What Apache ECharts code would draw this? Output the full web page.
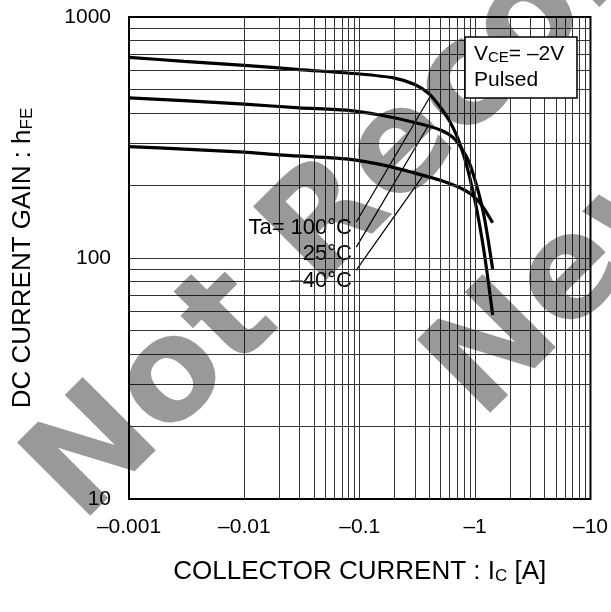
<!DOCTYPE html>
<html><head><meta charset="utf-8">
<script src="https://cdn.jsdelivr.net/npm/echarts@6/dist/echarts.min.js"></script>
<style>html,body{margin:0;padding:0;background:#fff}#c{width:611px;height:612px}</style>
</head><body><div id="c"></div>
<script>
// Tick labels
const xTickLabels = ['\u20130.001','\u20130.01','\u20130.1','\u20131','\u201310'];
const yTickLabels = ['10','100','1000'];

// Curves: |Ic| [A] vs hFE
const ic100 = [0.001, 0.003, 0.01, 0.03, 0.1, 0.2, 0.3, 0.4, 0.5, 0.6, 0.7, 0.8, 0.9, 1.0, 1.1, 1.2, 1.3, 1.42];
const hfe100 = [680, 655, 630, 605, 580, 558, 525, 480, 422, 370, 318, 265, 215, 172, 135, 105, 80, 58];
const ic25 = [0.001, 0.003, 0.01, 0.03, 0.08, 0.15, 0.3, 0.5, 0.65, 0.8, 0.9, 1.0, 1.1, 1.2, 1.3, 1.42];
const hfe25 = [462, 450, 435, 420, 410, 392, 365, 340, 315, 275, 245, 210, 178, 148, 118, 90];
const icM40 = [0.001, 0.003, 0.01, 0.02, 0.08, 0.18, 0.3, 0.5, 0.8, 1.0, 1.2, 1.42];
const hfeM40 = [290, 283, 275, 268, 257, 240, 225, 210, 192, 178, 160, 140];

// Leader lines (label -> curve), in data units
const leader100 = [[0.0933, 141], [0.41, 470]];
const leader25 = [[0.0933, 111], [0.39, 352]];
const leaderM40 = [[0.0933, 89], [0.35, 218]];

// Grid line positions
const xDecades = [0.001, 0.01, 0.1, 1];
const yDecades = [10, 100];
const mults = [1, 2, 3, 4, 5, 6, 7, 8, 9];

const FONT = 'Liberation Sans, Arial, sans-serif';
const zip = (a, b) => a.map((v, i) => [v, b[i]]);

const gridMarks = [];
xDecades.forEach(d => mults.forEach(m => { const v = d * m; if (v > 0.001) gridMarks.push({ xAxis: v }); }));
yDecades.forEach(d => mults.forEach(m => { const v = d * m; if (v > 10) gridMarks.push({ yAxis: v }); }));

const chart = echarts.init(document.getElementById('c'), null, { renderer: 'canvas' });
const curveStyle = { color: '#000', width: 3.2 };
const leaderStyle = { color: '#000', width: 1.2 };
const nameRich = {
  a: { fontSize: 26, fontFamily: FONT, color: '#000', lineHeight: 30, verticalAlign: 'bottom' },
  s: { fontSize: 17, fontFamily: FONT, color: '#000', lineHeight: 6, verticalAlign: 'bottom' }
};

chart.setOption({
  animation: false,
  backgroundColor: '#fff',
  grid: { left: 129, right: 17, top: 17, bottom: 113, show: true, borderColor: '#000', borderWidth: 2, backgroundColor: 'transparent' },
  xAxis: {
    type: 'log', logBase: 10, min: 0.001, max: 10,
    axisLine: { show: false }, axisTick: { show: false }, splitLine: { show: false },
    axisLabel: { color: '#000', fontSize: 21, fontFamily: FONT, margin: 18,
      formatter: v => xTickLabels[Math.round(Math.log10(v)) + 3] },
    name: '{a|COLLECTOR CURRENT : I}{s|C}{a| [A]}', nameLocation: 'middle', nameGap: 56,
    nameTextStyle: { color: '#000', fontFamily: FONT, rich: nameRich }
  },
  yAxis: {
    type: 'log', logBase: 10, min: 10, max: 1000,
    axisLine: { show: false }, axisTick: { show: false }, splitLine: { show: false },
    axisLabel: { color: '#000', fontSize: 21, fontFamily: FONT, margin: 18,
      formatter: v => yTickLabels[Math.round(Math.log10(v)) - 1] },
    name: '{a|DC CURRENT GAIN : h}{s|FE}', nameLocation: 'middle', nameGap: 93, nameRotate: 90,
    nameTextStyle: { color: '#000', fontFamily: FONT, rich: nameRich }
  },
  series: [
    { type: 'line', data: [], z: 1, silent: true,
      markLine: { silent: true, symbol: ['none', 'none'], label: { show: false },
        lineStyle: { color: '#333', width: 1, type: 'solid' }, emphasis: { disabled: true }, data: gridMarks } },
    { name: '100', type: 'line', data: zip(ic100, hfe100), smooth: 0.25, showSymbol: false, lineStyle: curveStyle, z: 3 },
    { name: '25', type: 'line', data: zip(ic25, hfe25), smooth: 0.25, showSymbol: false, lineStyle: curveStyle, z: 3 },
    { name: '-40', type: 'line', data: zip(icM40, hfeM40), smooth: 0.25, showSymbol: false, lineStyle: curveStyle, z: 3 },
    { type: 'line', data: leader100, showSymbol: false, lineStyle: leaderStyle, z: 3 },
    { type: 'line', data: leader25, showSymbol: false, lineStyle: leaderStyle, z: 3 },
    { type: 'line', data: leaderM40, showSymbol: false, lineStyle: leaderStyle, z: 3 }
  ],
  graphic: [
    { type: 'rect', z: 2, shape: { x: 238, y: 208, width: 120, height: 86 }, style: { fill: '#fff' } },
    { type: 'text', z: 4, x: 352, y: 228, style: { text: 'Ta= 100\u00b0C', font: '22px ' + FONT, fill: '#000', textAlign: 'right', textVerticalAlign: 'middle' } },
    { type: 'text', z: 4, x: 352, y: 254, style: { text: '25\u00b0C', font: '22px ' + FONT, fill: '#000', textAlign: 'right', textVerticalAlign: 'middle' } },
    { type: 'text', z: 4, x: 352, y: 281, style: { text: '\u201340\u00b0C', font: '22px ' + FONT, fill: '#000', textAlign: 'right', textVerticalAlign: 'middle' } },
    { type: 'text', z: 50, x: 55, y: 499, rotation: Math.PI / 4,
      style: { text: 'Not Recommended for', font: 'bold 142px DejaVu Sans', fill: 'rgba(0,0,0,0.4)', textAlign: 'left', textVerticalAlign: 'middle' } },
    { type: 'text', z: 50, x: 455, y: 396, rotation: Math.PI / 4,
      style: { text: 'New Designs', font: 'bold 142px DejaVu Sans', fill: 'rgba(0,0,0,0.4)', textAlign: 'left', textVerticalAlign: 'middle' } },
    { type: 'rect', z: 60, shape: { x: 465, y: 37, width: 112, height: 61 }, style: { fill: '#fff', stroke: '#000', lineWidth: 1.5 } },
    { type: 'text', z: 61, x: 474, y: 53, style: { text: '{a|V}{s|CE}{a|= \u20132V}', textVerticalAlign: 'middle', textAlign: 'left',
      rich: { a: { fontSize: 21, fontFamily: FONT, fill: '#000', lineHeight: 24, verticalAlign: 'bottom' },
              s: { fontSize: 15, fontFamily: FONT, fill: '#000', lineHeight: 8, verticalAlign: 'bottom' } } } },
    { type: 'text', z: 61, x: 474, y: 80, style: { text: 'Pulsed', font: '21px ' + FONT, fill: '#000', textAlign: 'left', textVerticalAlign: 'middle' } }
  ]
});
</script></body></html>
